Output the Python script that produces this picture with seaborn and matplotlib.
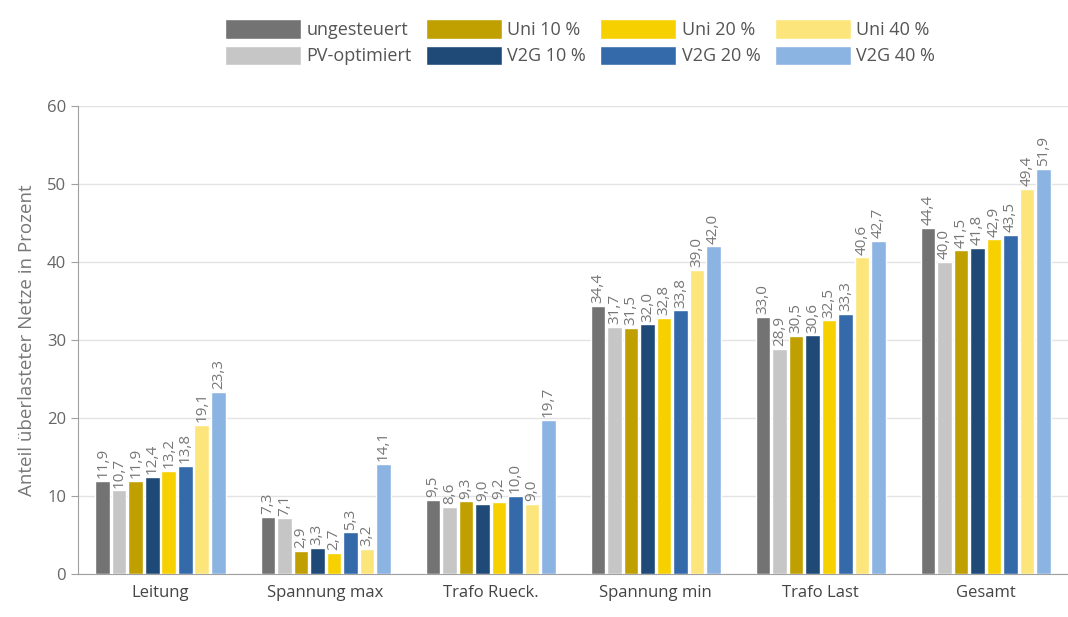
import pandas as pd
import seaborn as sns
import matplotlib.pyplot as plt

# categories and series
kategorien = ['Leitung', 'Spannung max', 'Trafo Rueck.', 'Spannung min', 'Trafo Last', 'Gesamt']
szenarien = ['ungesteuert', 'PV-optimiert', 'Uni 10 %', 'V2G 10 %',
             'Uni 20 %', 'V2G 20 %', 'Uni 40 %', 'V2G 40 %']

ungesteuert = [11.9, 7.3, 9.5, 34.4, 33.0, 44.4]
pv_optimiert = [10.7, 7.1, 8.6, 31.7, 28.9, 40.0]
uni10 = [11.9, 2.9, 9.3, 31.5, 30.5, 41.5]
v2g10 = [12.4, 3.3, 9.0, 32.0, 30.6, 41.8]
uni20 = [13.2, 2.7, 9.2, 32.8, 32.5, 42.9]
v2g20 = [13.8, 5.3, 10.0, 33.8, 33.3, 43.5]
uni40 = [19.1, 3.2, 9.0, 39.0, 40.6, 49.4]
v2g40 = [23.3, 14.1, 19.7, 42.0, 42.7, 51.9]

farben = ['#737373', '#c6c6c6', '#bfa000', '#1f4a78',
          '#f7d000', '#3469aa', '#fce57a', '#8cb4e2']

werte = [ungesteuert, pv_optimiert, uni10, v2g10, uni20, v2g20, uni40, v2g40]

#long format for seaborn
rows = []
for s, vals in zip(szenarien, werte):
    for k, v in zip(kategorien, vals):
        rows.append({'kategorie': k, 'szenario': s, 'wert': v})
df = pd.DataFrame(rows)

sns.set_style('white')
plt.rcParams['font.family'] = ['Open Sans', 'DejaVu Sans']

fig = plt.figure(figsize=(10.68, 6.17), dpi=100)
ax = fig.add_axes([0.073, 0.07, 0.935, 0.758])

sns.barplot(data=df, x='kategorie', y='wert', hue='szenario',
            order=kategorien, hue_order=szenarien, palette=farben,
            width=0.8, gap=0.12, saturation=1, ax=ax, zorder=3)

for cont in ax.containers:
    ax.bar_label(cont, labels=[f'{b.get_height():.1f}'.replace('.', ',') for b in cont],
                 rotation=90, padding=2, fontsize=11, color='#777777')

ax.set_ylim(0, 60)
ax.set_yticks(range(0, 61, 10))
ax.set_xlim(-0.5, 5.55)
ax.yaxis.grid(True, color='#e3e3e3', lw=1, zorder=0)
ax.set_axisbelow(True)
for sp in ['top', 'right']:
    ax.spines[sp].set_visible(False)
for sp in ['left', 'bottom']:
    ax.spines[sp].set_color('#a0a0a0')
ax.tick_params(axis='y', length=5, color='#a0a0a0', labelsize=12, labelcolor='#666666', left=True)
ax.tick_params(axis='x', length=0, labelsize=12, labelcolor='#444444', pad=8)
ax.set_xlabel('')
ax.set_ylabel('Anteil überlasteter Netze in Prozent', fontsize=13.5, color='#777777', labelpad=8)

handles, labels = ax.get_legend_handles_labels()
ax.get_legend().remove()
fig.legend(handles, labels, ncol=4, loc='upper center', bbox_to_anchor=(0.543, 0.995),
           frameon=False, fontsize=13, handlelength=4.2, handleheight=1.3,
           columnspacing=0.8, handletextpad=0.3, labelspacing=0.35, labelcolor='#555555')

plt.savefig('out.png', dpi=100)
